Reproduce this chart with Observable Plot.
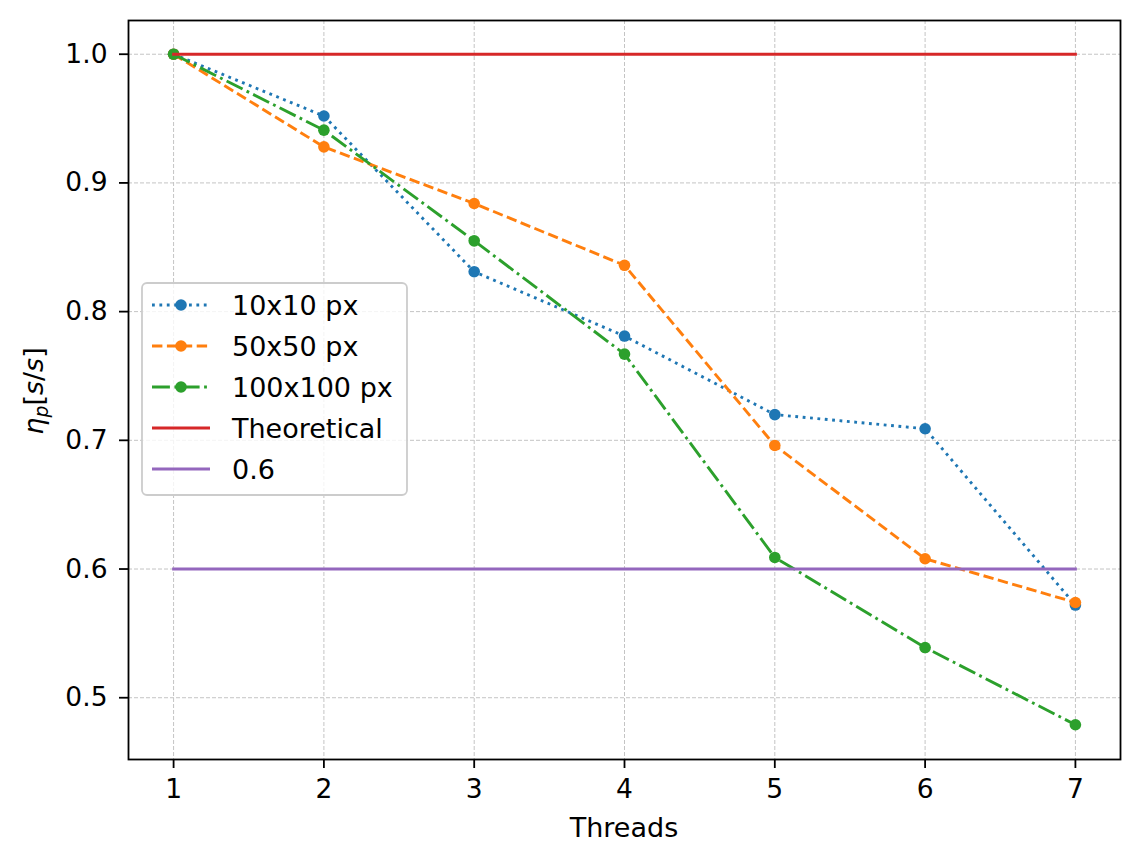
<!DOCTYPE html>
<html>
<head>
<meta charset="utf-8">
<script src="https://cdn.jsdelivr.net/npm/d3@7"></script>
<script src="https://cdn.jsdelivr.net/npm/@observablehq/plot@0.6"></script>
<style>
  html, body { margin: 0; padding: 0; background: #fff; }
  #chart { position: relative; width: 1141px; height: 864px; }
</style>
</head>
<body>
<div id="chart"></div>
<script>
// ---- data ----
const threads = [1, 2, 3, 4, 5, 6, 7];
const px10 = [1.000, 0.952, 0.831, 0.781, 0.720, 0.709, 0.572];
const px50 = [1.000, 0.928, 0.884, 0.836, 0.696, 0.608, 0.574];
const px100 = [1.000, 0.941, 0.855, 0.767, 0.609, 0.539, 0.479];
const theoretical = [1, 1, 1, 1, 1, 1, 1];
const reference = [0.6, 0.6, 0.6, 0.6, 0.6, 0.6, 0.6];
const seriesNames = ["10x10 px", "50x50 px", "100x100 px", "Theoretical", "0.6"];
const yTicks = [0.5, 0.6, 0.7, 0.8, 0.9, 1.0];

const colors = ["#1f77b4", "#ff7f0e", "#2ca02c", "#d62728", "#9467bd"];
const dashes = ["2.8,4.6", "10.4,4.5", "17.9,4.5,2.8,4.5", null, null];
const markers = [true, true, true, false, false];
const values = [px10, px50, px100, theoretical, reference];

const table = (arr) => threads.map((t, i) => ({t, v: arr[i]}));

const FONT = "DejaVu Sans";
const FS = 26.5;
const LFS = 27;
const LW = 2.9;
const R = 5.8;

const marks = [
  Plot.gridX(threads, {stroke: "#c4c4c4", strokeOpacity: 1, strokeWidth: 1, strokeDasharray: "4,2"}),
  Plot.gridY(yTicks, {stroke: "#c4c4c4", strokeOpacity: 1, strokeWidth: 1, strokeDasharray: "4,2"}),
];
values.forEach((arr, k) => {
  marks.push(Plot.line(table(arr), {
    x: "t", y: "v", stroke: colors[k], strokeWidth: LW,
    strokeDasharray: dashes[k] || undefined,
    strokeLinecap: dashes[k] ? "butt" : "square",
    strokeLinejoin: "round"
  }));
  if (markers[k]) {
    marks.push(Plot.dot(table(arr), {x: "t", y: "v", r: R, fill: colors[k], stroke: "none"}));
  }
});
marks.push(
  Plot.frame({stroke: "black", strokeWidth: 1.8}),
  Plot.axisX(threads, {tickSize: 9, tickPadding: 11, fontSize: FS, stroke: "black", strokeWidth: 1.8, label: null, tickFormat: d => String(d)}),
  Plot.axisY(yTicks, {tickSize: 9, tickPadding: 12, fontSize: FS, stroke: "black", strokeWidth: 1.8, label: null, tickFormat: d3.format(".1f")})
);

const svg = Plot.plot({
  width: 1141,
  height: 864,
  marginLeft: 128,
  marginRight: 21,
  marginTop: 20,
  marginBottom: 105,
  style: {fontFamily: FONT, fontSize: FS + "px", color: "black", background: "white"},
  x: {domain: [0.7, 7.3]},
  y: {domain: [0.452, 1.0262]},
  marks
});
document.getElementById("chart").appendChild(svg);

// ---- axis labels and legend ----
const s = d3.select(svg);
s.append("text")
  .attr("x", 624).attr("y", 837)
  .attr("text-anchor", "middle")
  .attr("font-family", FONT).attr("font-size", LFS)
  .attr("fill", "black")
  .text("Threads");

const yl = s.append("text")
  .attr("transform", "translate(43,391) rotate(-90)")
  .attr("text-anchor", "middle")
  .attr("font-family", FONT).attr("font-size", LFS)
  .attr("fill", "black");
yl.append("tspan").attr("font-style", "italic").text("η");
yl.append("tspan").attr("font-style", "italic").attr("font-size", LFS * 0.7).attr("dy", 5).text("p");
yl.append("tspan").attr("dy", -5).text("[");
yl.append("tspan").attr("font-style", "italic").text("s");
yl.append("tspan").text("/");
yl.append("tspan").attr("font-style", "italic").text("s");
yl.append("tspan").text("]");

const lg = s.append("g");
lg.append("rect")
  .attr("x", 142).attr("y", 283).attr("width", 265).attr("height", 212)
  .attr("rx", 5).attr("fill", "white").attr("fill-opacity", 0.8)
  .attr("stroke", "#cccccc").attr("stroke-width", 1.8);
const rowY = [305, 346, 387, 428, 469];
seriesNames.forEach((name, k) => {
  const y = rowY[k];
  lg.append("line")
    .attr("x1", 152).attr("x2", 210).attr("y1", y).attr("y2", y)
    .attr("stroke", colors[k]).attr("stroke-width", LW)
    .attr("stroke-dasharray", dashes[k] || null);
  if (markers[k]) {
    lg.append("circle").attr("cx", 181).attr("cy", y).attr("r", R).attr("fill", colors[k]);
  }
  lg.append("text")
    .attr("x", 232).attr("y", y)
    .attr("dy", "0.36em")
    .attr("text-anchor", "start")
    .attr("font-family", FONT).attr("font-size", LFS)
    .attr("fill", "black")
    .text(name);
});
</script>
</body>
</html>
